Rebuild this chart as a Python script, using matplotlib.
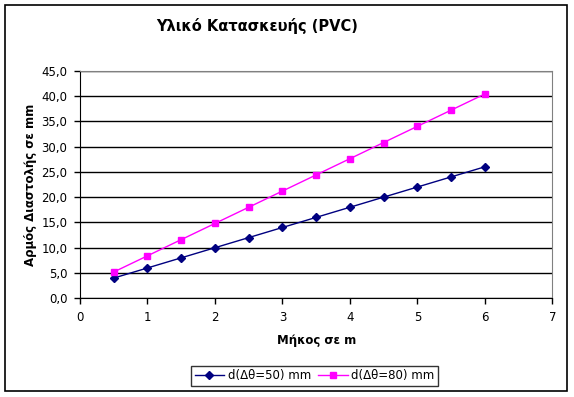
import matplotlib
matplotlib.use('Agg')
import matplotlib.pyplot as plt
from matplotlib.patches import Rectangle
from matplotlib.ticker import FuncFormatter

length_m = [0.5, 1, 1.5, 2, 2.5, 3, 3.5, 4, 4.5, 5, 5.5, 6]
d50 = [4.0, 6.0, 8.0, 10.0, 12.0, 14.0, 16.0, 18.0, 20.0, 22.0, 24.0, 26.0]
d80 = [5.2, 8.4, 11.6, 14.8, 18.0, 21.2, 24.4, 27.6, 30.8, 34.0, 37.2, 40.4]

W, H = 574, 397
fig = plt.figure(figsize=(W/100, H/100), dpi=100)

# outer chart border
fig.patches.append(Rectangle((5/W, 1-391/H), 562/W, 386/H, transform=fig.transFigure,
                             fill=False, edgecolor='black', linewidth=1.2))

ax = fig.add_axes([80/W, 1-298.3/H, (552.3-80)/W, (298.3-70.7)/H])

ax.plot(length_m, d50, color='#000080', marker='D', markersize=4.5, linewidth=1,
        label='d(Δθ=50) mm')
ax.plot(length_m, d80, color='#FF00FF', marker='s', markersize=5, linewidth=1,
        label='d(Δθ=80) mm')

ax.set_xlim(0, 7)
ax.set_ylim(0, 45)
ax.set_xticks(range(0, 8))
ax.set_yticks([i*5 for i in range(10)])
ax.yaxis.set_major_formatter(FuncFormatter(lambda v, p: ('%.1f' % v).replace('.', ',')))
ax.grid(axis='y', color='black', linewidth=1)
ax.set_axisbelow(True)

for s in ['top', 'right']:
    ax.spines[s].set_color('#808080')
for s in ['left', 'bottom']:
    ax.spines[s].set_color('black')
ax.tick_params(axis='both', direction='out', length=4, width=1, labelsize=8.5, pad=5)

ax.set_xlabel('Μήκος σε m', fontsize=8.5, fontweight='bold', labelpad=7)
ax.set_ylabel('Αρμός Διαστολής σε mm', fontsize=8.5, fontweight='bold', labelpad=3)

fig.text(257/W, 1-26/H, 'Υλικό Κατασκευής (PVC)', ha='center', va='center',
         fontsize=10.5, fontweight='bold')

leg = fig.legend(loc='center', bbox_to_anchor=(314.5/W, 1-375.8/H), ncol=2,
                 fontsize=8.5, frameon=True, fancybox=False, edgecolor='black',
                 handlelength=2.5, columnspacing=0.6, handletextpad=0.3,
                 borderpad=0.3)
leg.get_frame().set_linewidth(1)

fig.savefig('out.png', dpi=100)
